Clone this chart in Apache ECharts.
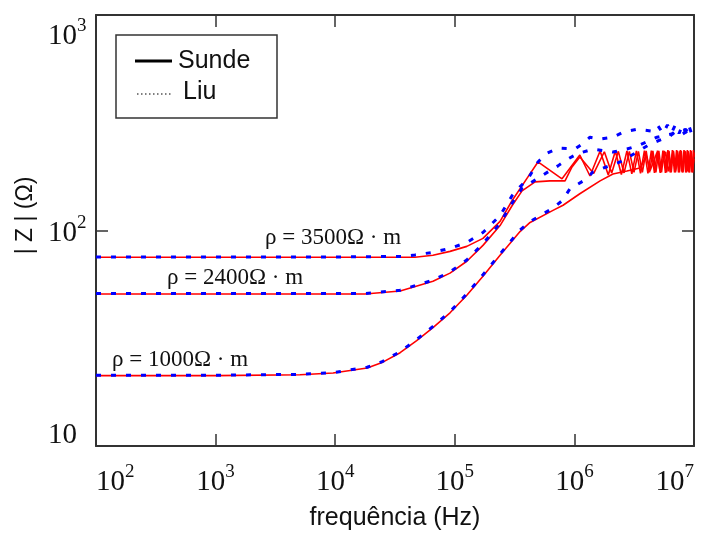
<!DOCTYPE html>
<html><head><meta charset="utf-8">
<script src="https://cdn.jsdelivr.net/npm/echarts@6/dist/echarts.min.js"></script>
<style>html,body{margin:0;padding:0;background:#fff}#c{width:702px;height:536px}</style>
</head><body><div id="c"></div>
<script>
// ---- data (frequency in Hz, |Z| in ohm) ----
const xTickValues = [100, 1e3, 1e4, 1e5, 1e6, 1e7];
const yTickValues = [10, 100, 1000];
const rhoLabels = ['ρ = 3500Ω · m', 'ρ = 2400Ω · m', 'ρ = 1000Ω · m'];
const legendNames = ['Sunde', 'Liu'];

const sunde1000_f = [100,1000,5080,9600,18500,25000,34900,48000,65700,91200,126000,172000,239000,351000,426000,662000,804000,1110000,1640000,2100000,2750000,3530000,4000000,4300000,4900000,5200000,5800000,6100000,6700000,7000000,7600000,7900000,8500000,8800000,9400000,9700000,10000000];
const sunde1000_z = [21.2,21.2,21.4,21.8,23.0,24.5,27.1,30.8,35.4,41.5,50.1,61.4,76.7,98.9,109,124,131,148.1,170,183,189,195,222,190,230,188,232,188,233,188,233,188,233,188,233,188,215];

const sunde2400_f = [100,1000,10000,17700,34900,65700,91200,126000,172000,239000,301000,365000,469000,625000,835000,955000,1110000,1450000,1780000,2050000,2330000,2600000,2880000,3150000,3430000,3700000,3980000,4250000,4530000,4800000,5080000,5350000,5630000,5900000,6180000,6450000,6730000,7000000,7280000,7550000,7830000,8100000,8380000,8650000,8930000,9200000,9480000,9750000,10000000];
const sunde2400_z = [50.7,50.7,50.7,50.7,52.4,58.2,63.4,72.0,85.3,105.4,130.3,152.8,168.2,169.9,169.9,197.3,219.4,184,232,185,233,185,233,186,233,186,234,186,234,186,234,186,234,186,234,186,234,186,234,186,234,186,234,186,234,186,234,186,230];

const sunde3500_f = [100,1000,10000,46400,65700,91200,126000,172000,239000,301000,409000,496000,788000,1110000,1350000,1640000,1920000,2200000,2470000,2750000,3020000,3300000,3570000,3850000,4120000,4400000,4670000,4950000,5220000,5500000,5770000,6050000,6320000,6600000,6870000,7150000,7420000,7700000,7970000,8250000,8520000,8800000,9070000,9350000,9620000,9900000,10000000];
const sunde3500_z = [75.1,75.1,75.1,75.1,76.7,80.0,84.4,91.9,110.2,137.4,177.4,208,173.7,224,179,234,181,234,182,234,183,234,184,235,184,235,185,235,185,235,185,236,186,236,186,236,186,236,186,236,186,236,186,236,186,236,220];

const liu1000_f = [100,1000,5080,9600,18500,25000,34900,48000,65700,91200,126000,172000,239000,351000,426000,662000,788000,919000,1270000,1430000,2410000,3340000,4280000,6300000,7000000,8000000,9000000,10000000];
const liu1000_z = [21.3,21.3,21.5,21.9,23.2,24.7,27.4,31.2,35.9,42.0,50.8,62.3,77.8,100.5,110,127,137.4,156.2,173.7,187.1,208,231.2,251.8,274.2,289,280,292,283];

const liu2400_f = [100,1000,10000,17700,34900,65700,91200,126000,172000,239000,301000,365000,487000,601000,729000,884000,1050000,1430000,2100000,2750000,3340000,4910000,7640000,8500000,9300000,10000000];
const liu2400_z = [51.0,51.0,51.0,51.0,52.8,58.8,64.2,73.0,86.8,108,134,157,173.7,187.1,199.5,214.8,226.5,238.8,231.2,238.8,246.6,271.0,285.8,295,280,290];

const liu3500_f = [100,1000,10000,37000,46400,65700,91200,126000,172000,239000,301000,351000,409000,496000,590000,729000,1010000,1160000,1350000,1640000,2100000,2550000,3340000,4540000,5000000,5500000,6000000,6500000,7000000,7500000,8000000,8500000,9000000,9500000,10000000];
const liu3500_z = [75.4,75.4,75.4,75.8,77.0,79.2,82.6,88.0,97.9,117.2,144.9,159.5,173.7,208,228.6,241,238.8,251.8,271,265.5,271,285.8,295.1,289,306,282,309,284,310,282,308,284,310,283,302];

// ---- chart ----
const zip = (f, z) => f.map((v, i) => [v, z[i]]);
const SERIF = '"Liberation Serif","Times New Roman",serif';
const SANS = '"Liberation Sans",Arial,sans-serif';
const INK = '#111';
const AX = '#333';

function expOf(v){ return Math.round(Math.log10(v)); }

const richBase = {
  n: {fontFamily: SERIF, fontSize: 29, color: INK, padding: [5,0,0,0]},
  s: {fontFamily: SERIF, fontSize: 19, color: INK, verticalAlign: 'top'},
  tn: {fontFamily: SERIF, fontSize: 29, color: INK, padding: [43,0,0,0]},
  ts: {fontFamily: SERIF, fontSize: 19, color: INK, verticalAlign: 'top', padding: [38,0,0,0]},
  bn: {fontFamily: SERIF, fontSize: 29, color: INK, padding: [0,0,21,0]}
};

function redSeries(name, f, z){
  return {name, type:'line', data: zip(f,z), xAxisIndex:0, yAxisIndex:0, showSymbol:false, symbol:'none',
    lineStyle:{color:'#ff0000', width:1.6}, z:2, animation:false};
}
function blueSeries(name, f, z){
  return {name, type:'line', data: zip(f,z), xAxisIndex:0, yAxisIndex:0, showSymbol:false, symbol:'none',
    lineStyle:{color:'#0000ff', width:3, type:[5,10], cap:'butt'}, z:3, animation:false};
}

const axisCommon = {
  type:'log', logBase:10,
  axisLine:{show:true, lineStyle:{color:AX, width:2}},
  axisTick:{show:true, inside:true, length:12, lineStyle:{color:AX, width:1.5}},
  splitLine:{show:false}, minorTick:{show:false}
};

const chart = echarts.init(document.getElementById('c'), null, {renderer:'canvas'});
chart.setOption({
  animation:false,
  backgroundColor:'#fff',
  grid:{left:96, right:8, top:15, bottom:87, containLabel:false},
  xAxis:[
    Object.assign({}, axisCommon, {position:'bottom', min:xTickValues[0], max:xTickValues[xTickValues.length-1],
      name:'frequência (Hz)', nameLocation:'middle', nameGap:60,
      nameTextStyle:{fontFamily:SANS, fontSize:25, color:INK},
      axisLabel:{show:true, margin:17, showMinLabel:true, showMaxLabel:true, hideOverlap:false,
        alignMinLabel:'left', alignMaxLabel:'right',
        formatter:(v)=>'{n|10}{s|'+expOf(v)+'}', rich:richBase}}),
    Object.assign({}, axisCommon, {position:'top', min:xTickValues[0], max:xTickValues[xTickValues.length-1],
      axisLabel:{show:false}})
  ],
  yAxis:[
    Object.assign({}, axisCommon, {position:'left', min:yTickValues[0], max:yTickValues[yTickValues.length-1],
      name:'| Z | (Ω)', nameLocation:'middle', nameGap:58,
      nameTextStyle:{fontFamily:SANS, fontSize:23, color:INK, padding:[0,0,0,30]},
      axisLabel:{show:true, margin:48, align:'left', showMinLabel:true, showMaxLabel:true, hideOverlap:false,
        formatter:(v)=>{const e=expOf(v); if(e===1) return '{bn|10}'; if(e===3) return '{tn|10}{ts|3}'; return '{n|10}{s|'+e+'}';},
        rich:richBase}}),
    Object.assign({}, axisCommon, {position:'right', min:yTickValues[0], max:yTickValues[yTickValues.length-1],
      axisLabel:{show:false}})
  ],
  series:[
    redSeries('Sunde ρ=3500', sunde3500_f, sunde3500_z),
    redSeries('Sunde ρ=2400', sunde2400_f, sunde2400_z),
    redSeries('Sunde ρ=1000', sunde1000_f, sunde1000_z),
    blueSeries('Liu ρ=3500', liu3500_f, liu3500_z),
    blueSeries('Liu ρ=2400', liu2400_f, liu2400_z),
    blueSeries('Liu ρ=1000', liu1000_f, liu1000_z)
  ],
  graphic:[
    {type:'rect', shape:{x:116, y:35, width:161, height:83}, style:{fill:'#fff', stroke:AX, lineWidth:1.5}, z:10},
    {type:'line', shape:{x1:135, y1:61, x2:172, y2:61}, style:{stroke:'#000', lineWidth:3}, z:11},
    {type:'line', shape:{x1:137, y1:94, x2:171, y2:94}, style:{stroke:'#000', lineWidth:1.2, lineDash:[1.5,2.5]}, z:11},
    {type:'text', x:178, y:61, style:{text:legendNames[0], font:'25px '+SANS, fill:INK, verticalAlign:'middle'}, z:11},
    {type:'text', x:183, y:92, style:{text:legendNames[1], font:'25px '+SANS, fill:INK, verticalAlign:'middle'}, z:11},
    {type:'text', x:265, y:238, style:{text:rhoLabels[0], font:'23px '+SERIF, fill:INK, verticalAlign:'middle'}, z:11},
    {type:'text', x:167, y:278, style:{text:rhoLabels[1], font:'23px '+SERIF, fill:INK, verticalAlign:'middle'}, z:11},
    {type:'text', x:112, y:360, style:{text:rhoLabels[2], font:'23px '+SERIF, fill:INK, verticalAlign:'middle'}, z:11}
  ]
});
</script></body></html>
